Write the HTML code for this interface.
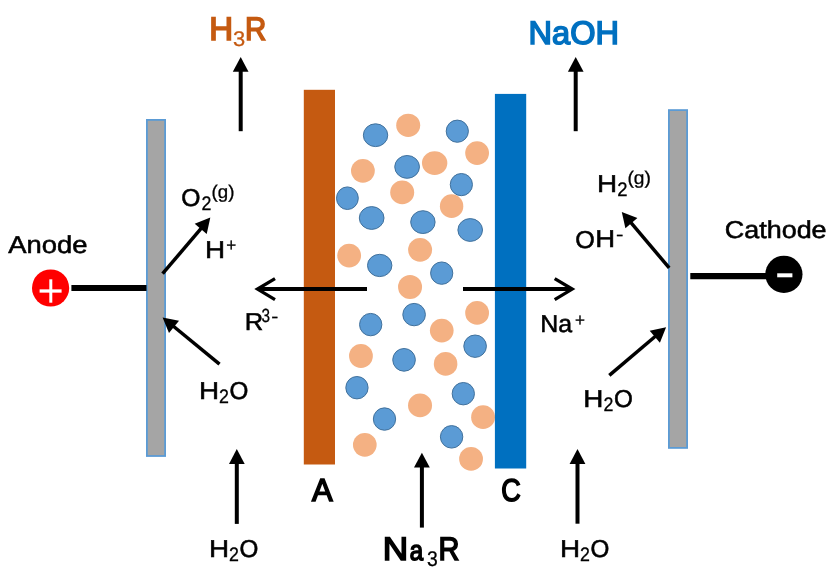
<!DOCTYPE html>
<html lang="en">
<head>
<meta charset="utf-8">
<title>Electrodialysis cell diagram</title>
<style>
html,body{margin:0;padding:0;background:#fff;}
body{width:838px;height:578px;overflow:hidden;}
svg{display:block;}
text{font-family:"Liberation Sans","NanumGothic",sans-serif;fill:#000;stroke:#000;stroke-width:0.55px;text-rendering:geometricPrecision;}
.b{stroke-width:1.6px;stroke-linejoin:miter;}
.s{stroke-width:0.3px;}
.or{fill:#c55a11;stroke:#c55a11;}
.bl{fill:#0070c0;stroke:#0070c0;}
.labels{will-change:opacity;}
</style>
</head>
<body>
<svg width="838" height="578" viewBox="0 0 838 578">
<rect width="838" height="578" fill="#fff"/>
<!-- electrodes -->
<rect x="146.9" y="119.9" width="18.2" height="336.1" fill="#a5a5a5" stroke="#5b9bd5" stroke-width="1.8"/>
<rect x="668.9" y="110.1" width="18.2" height="337.8" fill="#a5a5a5" stroke="#5b9bd5" stroke-width="1.8"/>
<!-- ions -->
<g fill="#f4b183">
<ellipse cx="408.2" cy="125.35" rx="12.0" ry="11.7"/>
<ellipse cx="477.1" cy="153.1" rx="11.9" ry="11.9"/>
<ellipse cx="434.65" cy="163.1" rx="12.7" ry="11.9"/>
<ellipse cx="362.9" cy="170.8" rx="11.9" ry="11.9"/>
<ellipse cx="402.2" cy="192.4" rx="12.0" ry="11.9"/>
<ellipse cx="451.6" cy="206.2" rx="11.7" ry="11.9"/>
<ellipse cx="349.15" cy="255.55" rx="11.9" ry="11.9"/>
<ellipse cx="420.1" cy="249.8" rx="12.0" ry="11.9"/>
<ellipse cx="410.05" cy="287.05" rx="12.0" ry="12.0"/>
<ellipse cx="477.1" cy="312.9" rx="11.9" ry="11.9"/>
<ellipse cx="441.75" cy="330.6" rx="11.85" ry="11.85"/>
<ellipse cx="360.95" cy="356.0" rx="11.9" ry="11.9"/>
<ellipse cx="445.6" cy="363.9" rx="11.8" ry="11.8"/>
<ellipse cx="420.05" cy="405.45" rx="12.0" ry="11.9"/>
<ellipse cx="483.05" cy="417.15" rx="11.9" ry="11.9"/>
<ellipse cx="364.8" cy="444.8" rx="11.85" ry="11.85"/>
<ellipse cx="471.05" cy="458.9" rx="11.9" ry="11.9"/>
</g>
<g fill="#5b9bd5" stroke="#41719c" stroke-width="1">
<ellipse cx="375.55" cy="135.2" rx="12.20" ry="11.40"/>
<ellipse cx="457.3" cy="131.2" rx="11.10" ry="11.10"/>
<ellipse cx="407.1" cy="166.9" rx="12.35" ry="11.40"/>
<ellipse cx="347.4" cy="198.2" rx="10.90" ry="11.30"/>
<ellipse cx="461.35" cy="184.6" rx="11.10" ry="11.10"/>
<ellipse cx="371.65" cy="218.0" rx="12.35" ry="11.40"/>
<ellipse cx="422.9" cy="222.1" rx="12.20" ry="11.40"/>
<ellipse cx="470.2" cy="230.0" rx="12.30" ry="11.40"/>
<ellipse cx="379.7" cy="265.45" rx="12.20" ry="11.15"/>
<ellipse cx="441.7" cy="273.15" rx="11.10" ry="11.20"/>
<ellipse cx="414.1" cy="314.6" rx="11.30" ry="11.20"/>
<ellipse cx="370.7" cy="324.6" rx="11.15" ry="11.20"/>
<ellipse cx="475.1" cy="346.2" rx="11.30" ry="11.20"/>
<ellipse cx="404.05" cy="359.85" rx="11.30" ry="11.35"/>
<ellipse cx="356.95" cy="387.7" rx="11.15" ry="11.20"/>
<ellipse cx="463.3" cy="393.7" rx="11.15" ry="11.20"/>
<ellipse cx="384.5" cy="419.05" rx="11.15" ry="11.20"/>
<ellipse cx="451.6" cy="436.85" rx="11.20" ry="11.25"/>
</g>
<!-- membranes -->
<rect x="303.8" y="89.8" width="31.2" height="374.7" fill="#c55a11"/>
<rect x="494.9" y="93.9" width="31.3" height="374.6" fill="#0070c0"/>
<!-- leads -->
<line x1="71.4" y1="288" x2="146.5" y2="288" stroke="#000" stroke-width="6.1"/>
<line x1="690.3" y1="276.1" x2="767" y2="276.1" stroke="#000" stroke-width="6.1"/>
<circle cx="50.6" cy="288" r="18.6" fill="#ff0000"/>
<path d="M39.6 291H61.6" stroke="#fff" stroke-width="3.3" fill="none"/>
<path d="M50.8 279.3V302.7" stroke="#fff" stroke-width="3" fill="none"/>
<circle cx="783.9" cy="274.3" r="18.6" fill="#000"/>
<path d="M777.2 275.3H792.4" stroke="#fff" stroke-width="4" fill="none"/>
<!-- arrows -->
<line x1="240.7" y1="131.2" x2="240.7" y2="69.8" stroke="#000" stroke-width="4.0"/><polygon points="240.7,57.0 248.5,71.8 232.8,71.8" fill="#000"/>
<line x1="575.7" y1="131.2" x2="575.7" y2="69.8" stroke="#000" stroke-width="4.0"/><polygon points="575.7,57.0 583.6,71.8 567.9,71.8" fill="#000"/>
<line x1="236.8" y1="523.9" x2="236.8" y2="461.9" stroke="#000" stroke-width="4.0"/><polygon points="236.8,449.1 244.7,463.9 229.0,463.9" fill="#000"/>
<line x1="421.9" y1="527.6" x2="421.9" y2="465.5" stroke="#000" stroke-width="4.0"/><polygon points="421.9,452.7 429.8,467.5 414.0,467.5" fill="#000"/>
<line x1="577.5" y1="523.7" x2="577.5" y2="461.9" stroke="#000" stroke-width="4.0"/><polygon points="577.5,449.1 585.4,463.9 569.6,463.9" fill="#000"/>
<line x1="162.6" y1="273.7" x2="202.0" y2="227.4" stroke="#000" stroke-width="3.5"/><polygon points="210.3,217.6 206.7,234.0 194.7,223.8" fill="#000"/>
<line x1="219.5" y1="364.2" x2="172.5" y2="325.5" stroke="#000" stroke-width="3.5"/><polygon points="162.6,317.4 179.0,320.7 169.0,332.9" fill="#000"/>
<line x1="669.2" y1="267.9" x2="630.1" y2="221.7" stroke="#000" stroke-width="3.5"/><polygon points="621.8,211.9 637.4,218.1 625.4,228.3" fill="#000"/>
<line x1="609.3" y1="375.4" x2="656.3" y2="335.5" stroke="#000" stroke-width="3.5"/><polygon points="666.1,327.2 659.9,342.8 649.7,330.8" fill="#000"/>
<line x1="367.0" y1="289.1" x2="258.0" y2="289.1" stroke="#000" stroke-width="4.0"/><polyline points="275.0,278.60 257.5,289.1 275.0,299.60" fill="none" stroke="#000" stroke-width="3.3" stroke-linejoin="miter"/>
<line x1="463.0" y1="289.1" x2="571.7" y2="289.1" stroke="#000" stroke-width="4.0"/><polyline points="554.7,278.60 572.2,289.1 554.7,299.60" fill="none" stroke="#000" stroke-width="3.3" stroke-linejoin="miter"/>
<!-- labels -->
<g class="labels">
<text><tspan x="8.30" y="253.40" font-size="24.40" textLength="79.14" lengthAdjust="spacingAndGlyphs">Anode</tspan></text>
<text><tspan x="724.75" y="237.70" font-size="24.40" textLength="101.85" lengthAdjust="spacingAndGlyphs">Cathode</tspan></text>
<text class="or"><tspan x="209.16" y="39.85" font-size="32.60" textLength="23.86" lengthAdjust="spacingAndGlyphs" class="b">H</tspan><tspan x="233.02" y="46.00" font-size="21.30" textLength="12.19" lengthAdjust="spacingAndGlyphs" class="s">3</tspan><tspan x="244.94" y="39.85" font-size="32.60" textLength="21.30" lengthAdjust="spacingAndGlyphs" class="b">R</tspan></text>
<text class="bl"><tspan x="528.60" y="43.80" font-size="32.60" textLength="90.46" lengthAdjust="spacingAndGlyphs" class="b">NaOH</tspan></text>
<text><tspan x="181.16" y="205.95" font-size="24.40" textLength="19.22" lengthAdjust="spacingAndGlyphs">O</tspan><tspan x="201.61" y="209.85" font-size="19.60" textLength="9.92" lengthAdjust="spacingAndGlyphs" class="s">2</tspan><tspan x="211.58" y="197.90" font-size="18.40" textLength="22.89" lengthAdjust="spacingAndGlyphs" class="s">(g)</tspan></text>
<text><tspan x="204.97" y="257.55" font-size="24.40" textLength="20.12" lengthAdjust="spacingAndGlyphs">H</tspan><tspan x="226.15" y="250.80" font-size="18.00" textLength="9.98" lengthAdjust="spacingAndGlyphs" class="s">+</tspan></text>
<text><tspan x="244.65" y="330.40" font-size="24.40" textLength="18.48" lengthAdjust="spacingAndGlyphs">R</tspan><tspan x="261.39" y="322.40" font-size="19.00" textLength="8.52" lengthAdjust="spacingAndGlyphs" class="s">3</tspan><tspan x="271.15" y="322.30" font-size="17.00" textLength="7.06" lengthAdjust="spacingAndGlyphs" class="s">-</tspan></text>
<text><tspan x="198.97" y="399.30" font-size="24.40" textLength="20.12" lengthAdjust="spacingAndGlyphs">H</tspan><tspan x="219.11" y="403.30" font-size="19.60" textLength="9.92" lengthAdjust="spacingAndGlyphs" class="s">2</tspan><tspan x="229.59" y="399.40" font-size="24.40" textLength="18.88" lengthAdjust="spacingAndGlyphs">O</tspan></text>
<text><tspan x="208.97" y="557.00" font-size="24.40" textLength="20.12" lengthAdjust="spacingAndGlyphs">H</tspan><tspan x="229.11" y="561.00" font-size="19.60" textLength="9.92" lengthAdjust="spacingAndGlyphs" class="s">2</tspan><tspan x="239.59" y="557.10" font-size="24.40" textLength="18.88" lengthAdjust="spacingAndGlyphs">O</tspan></text>
<text><tspan x="583.27" y="407.30" font-size="24.40" textLength="20.12" lengthAdjust="spacingAndGlyphs">H</tspan><tspan x="603.41" y="411.30" font-size="19.60" textLength="9.92" lengthAdjust="spacingAndGlyphs" class="s">2</tspan><tspan x="613.89" y="407.40" font-size="24.40" textLength="18.88" lengthAdjust="spacingAndGlyphs">O</tspan></text>
<text><tspan x="559.97" y="557.00" font-size="24.40" textLength="20.12" lengthAdjust="spacingAndGlyphs">H</tspan><tspan x="580.11" y="561.00" font-size="19.60" textLength="9.92" lengthAdjust="spacingAndGlyphs" class="s">2</tspan><tspan x="590.59" y="557.10" font-size="24.40" textLength="18.88" lengthAdjust="spacingAndGlyphs">O</tspan></text>
<text><tspan x="312.10" y="501.10" font-size="32.00" textLength="20.62" lengthAdjust="spacingAndGlyphs" class="b">A</tspan></text>
<text><tspan x="501.15" y="500.70" font-size="31.50" textLength="19.49" lengthAdjust="spacingAndGlyphs" class="b">C</tspan></text>
<text><tspan x="382.79" y="560.40" font-size="32.60" textLength="25.41" lengthAdjust="spacingAndGlyphs" class="b">N</tspan><tspan x="409.74" y="560.40" font-size="28.00" textLength="13.37" lengthAdjust="spacingAndGlyphs" class="b">a</tspan><tspan x="426.93" y="566.30" font-size="21.30" textLength="10.77" lengthAdjust="spacingAndGlyphs" class="s">3</tspan><tspan x="438.38" y="560.40" font-size="32.60" textLength="20.93" lengthAdjust="spacingAndGlyphs" class="b">R</tspan></text>
<text><tspan x="597.07" y="192.40" font-size="24.40" textLength="20.12" lengthAdjust="spacingAndGlyphs">H</tspan><tspan x="617.18" y="196.15" font-size="19.60" textLength="10.28" lengthAdjust="spacingAndGlyphs" class="s">2</tspan><tspan x="627.45" y="184.10" font-size="18.40" textLength="23.44" lengthAdjust="spacingAndGlyphs" class="s">(g)</tspan></text>
<text><tspan x="575.34" y="247.50" font-size="24.40" textLength="19.56" lengthAdjust="spacingAndGlyphs">O</tspan><tspan x="595.20" y="247.40" font-size="24.40" textLength="19.86" lengthAdjust="spacingAndGlyphs">H</tspan><tspan x="615.90" y="239.50" font-size="17.00" textLength="7.46" lengthAdjust="spacingAndGlyphs" class="s">-</tspan></text>
<text><tspan x="540.21" y="332.10" font-size="24.40" textLength="31.85" lengthAdjust="spacingAndGlyphs">Na</tspan><tspan x="574.95" y="325.60" font-size="18.00" textLength="9.98" lengthAdjust="spacingAndGlyphs" class="s">+</tspan></text>
</g>
</svg>
</body>
</html>
